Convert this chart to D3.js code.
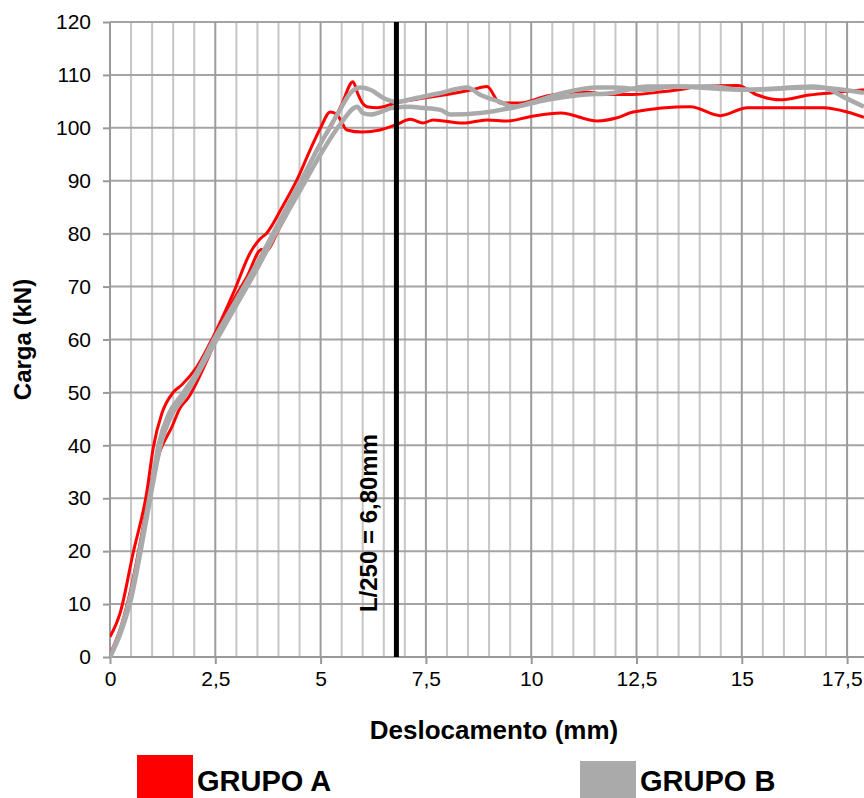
<!DOCTYPE html>
<html>
<head>
<meta charset="utf-8">
<script src="https://cdn.jsdelivr.net/npm/d3@7"></script>
<style>
  body { margin: 0; background: #fff; }
  svg { display: block; font-family: Arial, "Liberation Sans", sans-serif; }
  .axis path { display: none; }
  .axis text { fill: #000; }
</style>
</head>
<body>
<div id="chart"></div>
<script>
//Width and height
var w = 864;
var h = 798;
var margin = {left: 110, top: 22, bottom: 141};

//Curves: [deslocamento (mm), carga (kN)]
var grupoA1 = [[0,3.8],[0.24,8.3],[0.55,19.7],[0.87,31],[1.03,39.7],[1.23,46],[1.5,50],[1.7,51.4],
  [2.06,54.8],[2.45,60.5],[2.93,68.8],[3.33,76.4],[3.56,79],[3.72,80.1],[4.1,85.2],[4.44,90.2],
  [4.75,95.8],[5.0,100],[5.23,103],[5.39,102.5],[5.5,101.1],[5.62,99.6],[6.0,99.2],[6.41,99.6],
  [6.8,100.6],[7.13,101.6],[7.43,100.9],[7.67,101.5],[8.38,100.9],[8.95,101.5],[9.43,101.3],
  [9.97,102.1],[10.7,102.8],[11.57,101.3],[12.04,101.9],[12.42,103],[13.78,104],[14.49,102.3],
  [15.13,103.8],[16.94,103.8],[17.5,103],[17.9,102]];

var grupoA2 = [[0,0.5],[0.25,5.5],[0.5,13],[0.75,23],[1.0,34],[1.19,39],[1.47,43.5],[1.66,47],
  [1.86,49],[2.3,56],[2.85,66.2],[3.25,71.8],[3.6,77],[3.68,76.6],[4.04,81.3],[4.5,88.5],
  [4.9,95.8],[5.23,100],[5.5,104.4],[5.77,108.7],[5.88,106.5],[5.99,104.7],[6.1,104],[6.34,103.8],
  [6.8,104.7],[7.2,105.3],[8.0,106.3],[8.6,107.2],[8.95,107.8],[9.26,104.7],[9.74,104.7],
  [10.37,106],[11.16,106.8],[11.95,106.3],[12.4,106.3],[13.1,106.8],[13.5,107.2],[14.0,107.8],
  [14.9,108],[15.37,106.2],[15.9,105.3],[16.6,106.2],[17.4,106.8],[17.9,107.2]];

var grupoB1 = [[0,0],[0.25,5],[0.5,12],[0.75,22],[1.0,33],[1.15,40],[1.4,46],[1.7,49.5],[2.0,53],
  [2.5,60.5],[3.0,67.5],[3.5,74.5],[4.0,82],[4.5,89.5],[5.0,97],[5.46,103.4],[5.7,106.5],
  [5.94,107.6],[6.18,107.2],[6.48,105.7],[6.8,104.9],[7.2,105.5],[7.8,106.5],[8.48,107.6],
  [8.8,106.2],[9.26,104.9],[9.57,104],[9.97,104.7],[10.76,106.6],[11.57,107.6],[11.95,107.6],
  [12.75,107.2],[13.37,107.8],[15.13,107.2],[16.7,107.8],[17.0,107.5],[17.4,105.9],[17.9,104]];

var grupoB2 = [[0,0],[0.25,4.5],[0.5,11],[0.75,21],[1.0,32],[1.2,40],[1.45,45.5],[1.75,49],
  [2.05,53],[2.5,59.5],[3.0,66.5],[3.5,73.5],[4.0,81],[4.5,88],[5.0,95],[5.46,100.6],[5.87,104],
  [6.0,102.8],[6.18,102.5],[6.72,103.8],[7.13,104],[7.36,103.8],[7.84,103.4],[8.08,102.5],
  [8.79,102.8],[9.57,103.8],[10.38,105.3],[11.16,106.2],[11.95,106.6],[12.75,107.8],[14.3,107.8],
  [15,107.2],[16.7,107.6],[17.4,107.2],[17.9,106.6]];

//Ticks and labels
var xTicks = [0, 2.5, 5, 7.5, 10, 12.5, 15, 17.5];
var yTicks = [0, 10, 20, 30, 40, 50, 60, 70, 80, 90, 100, 110, 120];
var limite = 6.8;
var limiteLabel = "L/250 = 6,80mm";
var legendNames = ["GRUPO A", "GRUPO B"];
var colorA = "#ff0000";
var colorB = "#aaaaaa";

var locale = d3.formatLocale({decimal: ",", thousands: ".", grouping: [3], currency: ["", ""]});
var fmt = locale.format("~g");

//Scales
var xScale = d3.scaleLinear().domain([0, 18]).range([margin.left, margin.left + 18 * 42.12]);
var yScale = d3.scaleLinear().domain([0, 120]).range([h - margin.bottom, margin.top]);

var svg = d3.select("#chart").append("svg")
  .attr("width", w)
  .attr("height", h);

svg.append("rect").attr("width", w).attr("height", h).attr("fill", "#fff");

//Grid: minor vertical every 0.5 mm, major every 2.5 mm
var minor = d3.range(0.5, 18.01, 0.5).filter(function(d){ return Math.abs(d / 2.5 - Math.round(d / 2.5)) > 1e-6; });
svg.append("g")
  .selectAll("line")
  .data(minor)
  .enter().append("line")
  .attr("x1", function(d){ return xScale(d); })
  .attr("x2", function(d){ return xScale(d); })
  .attr("y1", yScale(120)).attr("y2", yScale(0))
  .attr("stroke", "#c6c6c6").attr("stroke-width", 2);

svg.append("g")
  .selectAll("line")
  .data(yTicks.slice(1))
  .enter().append("line")
  .attr("x1", xScale(0)).attr("x2", w)
  .attr("y1", function(d){ return yScale(d); })
  .attr("y2", function(d){ return yScale(d); })
  .attr("stroke", "#a4a4a4").attr("stroke-width", 2);

svg.append("g")
  .selectAll("line")
  .data(xTicks.slice(1))
  .enter().append("line")
  .attr("x1", function(d){ return xScale(d); })
  .attr("x2", function(d){ return xScale(d); })
  .attr("y1", yScale(120)).attr("y2", yScale(0))
  .attr("stroke", "#9c9c9c").attr("stroke-width", 2);

//Axis lines
svg.append("line")
  .attr("x1", xScale(0)).attr("x2", xScale(0))
  .attr("y1", yScale(120)).attr("y2", yScale(0))
  .attr("stroke", "#999").attr("stroke-width", 2);
svg.append("line")
  .attr("x1", xScale(0)).attr("x2", w)
  .attr("y1", yScale(0)).attr("y2", yScale(0))
  .attr("stroke", "#999").attr("stroke-width", 2);

//Axes
var yAxis = d3.axisLeft(yScale).tickValues(yTicks).tickSizeInner(7).tickSizeOuter(0).tickPadding(12);
var gy = svg.append("g")
  .attr("class", "axis y")
  .attr("transform", "translate(" + xScale(0) + ",0)")
  .call(yAxis);
gy.selectAll("line").attr("stroke", "#999").attr("stroke-width", 2);
gy.selectAll("text").style("font-size", "21px");

var xAxis = d3.axisBottom(xScale).tickValues(xTicks).tickFormat(fmt).tickSizeInner(7).tickSizeOuter(0).tickPadding(7);
var gx = svg.append("g")
  .attr("class", "axis x")
  .attr("transform", "translate(0," + yScale(0) + ")")
  .call(xAxis);
gx.selectAll("line").attr("stroke", "#999").attr("stroke-width", 2);
gx.selectAll("text").style("font-size", "21px");
//last label sits at the right edge, keep it inside
gx.selectAll(".tick").filter(function(d){ return d === 17.5; })
  .select("text").attr("text-anchor", "end").attr("dx", "15");

//Curves
svg.append("clipPath").attr("id", "plot")
  .append("rect")
  .attr("x", xScale(0)).attr("y", 0)
  .attr("width", w - xScale(0)).attr("height", yScale(0) + 2);

var line = d3.line()
  .x(function(d){ return xScale(d[0]); })
  .y(function(d){ return yScale(d[1]); })
  .curve(d3.curveMonotoneX);

var series = [
  {data: grupoA1, color: colorA, width: 3},
  {data: grupoA2, color: colorA, width: 3},
  {data: grupoB1, color: colorB, width: 4.5},
  {data: grupoB2, color: colorB, width: 4.5}
];

svg.append("g")
  .attr("clip-path", "url(#plot)")
  .selectAll("path")
  .data(series)
  .enter().append("path")
  .attr("d", function(d){ return line(d.data); })
  .attr("fill", "none")
  .attr("stroke", function(d){ return d.color; })
  .attr("stroke-width", function(d){ return d.width; })
  .attr("stroke-linejoin", "round");

//L/250 limit
svg.append("line")
  .attr("x1", xScale(limite)).attr("x2", xScale(limite))
  .attr("y1", yScale(120)).attr("y2", yScale(0))
  .attr("stroke", "#000").attr("stroke-width", 5);

svg.append("text")
  .attr("transform", "translate(" + (xScale(limite) - 19) + "," + 523 + ") rotate(-90)")
  .attr("text-anchor", "middle")
  .style("font-size", "24px").style("font-weight", "bold")
  .text(limiteLabel);

//Axis titles
svg.append("text")
  .attr("transform", "translate(31," + yScale(60) + ") rotate(-90)")
  .attr("text-anchor", "middle")
  .style("font-size", "24px").style("font-weight", "bold")
  .text("Carga (kN)");

svg.append("text")
  .attr("x", 494).attr("y", 739)
  .attr("text-anchor", "middle")
  .style("font-size", "26px").style("font-weight", "bold")
  .text("Deslocamento (mm)");

//Legend
var legend = svg.append("g");
var legendX = [137, 580];
var legendTop = [755, 761];
var legendColors = [colorA, colorB];
legendNames.forEach(function(name, i){
  legend.append("rect")
    .attr("x", legendX[i]).attr("y", legendTop[i])
    .attr("width", 56).attr("height", h - legendTop[i])
    .attr("fill", legendColors[i]);
  legend.append("text")
    .attr("x", legendX[i] + 60).attr("y", 791)
    .style("font-size", "29px").style("font-weight", "bold")
    .text(name);
});
</script>
</body>
</html>
